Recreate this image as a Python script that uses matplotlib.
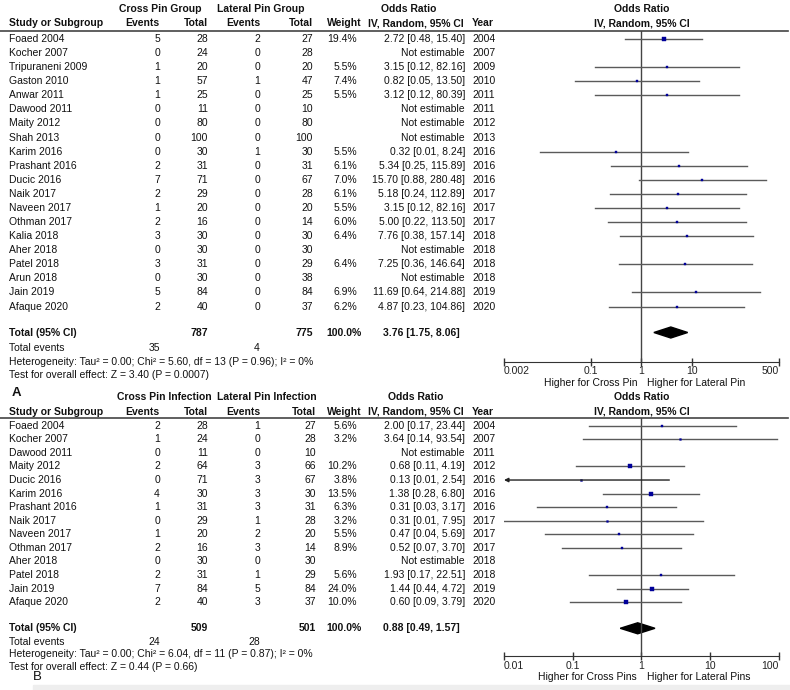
import matplotlib
matplotlib.use('Agg')
import matplotlib.pyplot as plt
from matplotlib.patches import Polygon, Rectangle

plt.rcParams['font.family'] = ['Liberation Sans', 'DejaVu Sans']
FS = 7.5
NAVY = '#000099'
LINE = '#5a5a5a'

# ---- Panel A: cross pin group vs lateral pin group ----
studies_a = ['Foaed 2004', 'Kocher 2007', 'Tripuraneni 2009', 'Gaston 2010', 'Anwar 2011',
             'Dawood 2011', 'Maity 2012', 'Shah 2013', 'Karim 2016', 'Prashant 2016',
             'Ducic 2016', 'Naik 2017', 'Naveen 2017', 'Othman 2017', 'Kalia 2018',
             'Aher 2018', 'Patel 2018', 'Arun 2018', 'Jain 2019', 'Afaque 2020']
cross_ev_a = [5, 0, 1, 1, 1, 0, 0, 0, 0, 2, 7, 2, 1, 2, 3, 0, 3, 0, 5, 2]
cross_n_a = [28, 24, 20, 57, 25, 11, 80, 100, 30, 31, 71, 29, 20, 16, 30, 30, 31, 30, 84, 40]
lat_ev_a = [2, 0, 0, 1, 0, 0, 0, 0, 1, 0, 0, 0, 0, 0, 0, 0, 0, 0, 0, 0]
lat_n_a = [27, 28, 20, 47, 25, 10, 80, 100, 30, 31, 67, 28, 20, 14, 30, 30, 29, 38, 84, 37]
weight_a = [19.4, None, 5.5, 7.4, 5.5, None, None, None, 5.5, 6.1, 7.0, 6.1, 5.5, 6.0, 6.4,
            None, 6.4, None, 6.9, 6.2]
or_a = [2.72, None, 3.15, 0.82, 3.12, None, None, None, 0.32, 5.34, 15.70, 5.18, 3.15, 5.00,
        7.76, None, 7.25, None, 11.69, 4.87]
lo_a = [0.48, None, 0.12, 0.05, 0.12, None, None, None, 0.01, 0.25, 0.88, 0.24, 0.12, 0.22,
        0.38, None, 0.36, None, 0.64, 0.23]
hi_a = [15.40, None, 82.16, 13.50, 80.39, None, None, None, 8.24, 115.89, 280.48, 112.89,
        82.16, 113.50, 157.14, None, 146.64, None, 214.88, 104.86]
years_a = [2004, 2007, 2009, 2010, 2011, 2011, 2012, 2013, 2016, 2016, 2016, 2017, 2017, 2017,
           2018, 2018, 2018, 2018, 2019, 2020]
total_a = (787, 775, 35, 4, 3.76, 1.75, 8.06)
het_a = 'Heterogeneity: Tau\u00b2 = 0.00; Chi\u00b2 = 5.60, df = 13 (P = 0.96); I\u00b2 = 0%'
test_a = 'Test for overall effect: Z = 3.40 (P = 0.0007)'
ticks_a = [0.002, 0.1, 1, 10, 500]
ticklabels_a = ['0.002', '0.1', '1', '10', '500']

# ---- Panel B: pin infection ----
studies_b = ['Foaed 2004', 'Kocher 2007', 'Dawood 2011', 'Maity 2012', 'Ducic 2016',
             'Karim 2016', 'Prashant 2016', 'Naik 2017', 'Naveen 2017', 'Othman 2017',
             'Aher 2018', 'Patel 2018', 'Jain 2019', 'Afaque 2020']
cross_ev_b = [2, 1, 0, 2, 0, 4, 1, 0, 1, 2, 0, 2, 7, 2]
cross_n_b = [28, 24, 11, 64, 71, 30, 31, 29, 20, 16, 30, 31, 84, 40]
lat_ev_b = [1, 0, 0, 3, 3, 3, 3, 1, 2, 3, 0, 1, 5, 3]
lat_n_b = [27, 28, 10, 66, 67, 30, 31, 28, 20, 14, 30, 29, 84, 37]
weight_b = [5.6, 3.2, None, 10.2, 3.8, 13.5, 6.3, 3.2, 5.5, 8.9, None, 5.6, 24.0, 10.0]
or_b = [2.00, 3.64, None, 0.68, 0.13, 1.38, 0.31, 0.31, 0.47, 0.52, None, 1.93, 1.44, 0.60]
# Ducic lower limit is below the axis (shown as 0.01, drawn with an arrow)
lo_b = [0.17, 0.14, None, 0.11, 0.007, 0.28, 0.03, 0.01, 0.04, 0.07, None, 0.17, 0.44, 0.09]
hi_b = [23.44, 93.54, None, 4.19, 2.54, 6.80, 3.17, 7.95, 5.69, 3.70, None, 22.51, 4.72, 3.79]
years_b = [2004, 2007, 2011, 2012, 2016, 2016, 2016, 2017, 2017, 2017, 2018, 2018, 2019, 2020]
total_b = (509, 501, 24, 28, 0.88, 0.49, 1.57)
het_b = 'Heterogeneity: Tau\u00b2 = 0.00; Chi\u00b2 = 6.04, df = 11 (P = 0.87); I\u00b2 = 0%'
test_b = 'Test for overall effect: Z = 0.44 (P = 0.66)'
ticks_b = [0.01, 0.1, 1, 10, 100]
ticklabels_b = ['0.01', '0.1', '1', '10', '100']

fig = plt.figure(figsize=(7.9, 6.9), dpi=100)
bg = fig.add_axes([0, 0, 1, 1])
bg.set_xlim(0, 790)
bg.set_ylim(690, 0)
bg.axis('off')

# column anchors (pixels)
X_STUDY, X_CEV, X_CN, X_LEV, X_LN, X_W, X_OR, X_YEAR = 9, 160, 208, 260, 313, 357, 465, 472
FX0, FX1 = 504, 779


def txt(x, y, s, ha='left', bold=False, size=FS):
    bg.text(x, y, s, ha=ha, va='center', fontsize=size,
            fontweight='bold' if bold else 'normal', color='#111111')


def draw_panel(lay, studies, cev, cn, lev, ln, w, orv, lo, hi, years, tot, het, test,
               ticks, ticklabels):
    # headers
    txt(lay['grp_c'], lay['h1'], lay['grp1'], ha='center', bold=True)
    txt(lay['grp_l'], lay['h1'], lay['grp2'], ha='center', bold=True)
    txt(lay['or_h'], lay['h1'], 'Odds Ratio', ha='center', bold=True)
    txt(641.5, lay['h1'], 'Odds Ratio', ha='center', bold=True)
    txt(X_STUDY, lay['h2'], 'Study or Subgroup', bold=True)
    txt(X_CEV - 1, lay['h2'], 'Events', ha='right', bold=True)
    txt(X_CN, lay['h2'], 'Total', ha='right', bold=True)
    txt(X_LEV, lay['h2'], 'Events', ha='right', bold=True)
    txt(lay['x_ln'], lay['h2'], 'Total', ha='right', bold=True)
    txt(X_W + 5, lay['h2'], 'Weight', ha='right', bold=True)
    txt(416, lay['h2'], 'IV, Random, 95% CI', ha='center', bold=True)
    txt(X_YEAR, lay['h2'], 'Year', bold=True)
    txt(641.5, lay['h2'], 'IV, Random, 95% CI', ha='center', bold=True)
    bg.plot([0, 788], [lay['line'], lay['line']], color='#444444', lw=1.2)

    # forest axes aligned with pixel rows
    ax = fig.add_axes([FX0 / 790, 1 - lay['axis'] / 690, (FX1 - FX0) / 790,
                       (lay['axis'] - lay['line']) / 690])
    ax.set_xscale('log')
    ax.set_xlim(ticks[0], ticks[-1])
    ax.set_ylim(lay['axis'], lay['line'])
    ax.patch.set_alpha(0)
    for s in ['top', 'left', 'right']:
        ax.spines[s].set_visible(False)
    ax.spines['bottom'].set_color('#333333')
    ax.set_yticks([])
    ax.minorticks_off()
    ax.set_xticks(ticks)
    ax.set_xticklabels(ticklabels, fontsize=FS, color='#222222')
    ax.tick_params(axis='x', direction='inout', length=6, width=1, color='#333333', pad=0.3)
    labs = ax.get_xticklabels()
    labs[0].set_ha('left')
    labs[-1].set_ha('right')
    ax.axvline(1, color='#444444', lw=1)

    for i, name in enumerate(studies):
        y = lay['r0'] + i * lay['dy']
        txt(X_STUDY, y, name)
        txt(X_CEV, y, str(cev[i]), ha='right')
        txt(X_CN, y, str(cn[i]), ha='right')
        txt(X_LEV, y, str(lev[i]), ha='right')
        txt(lay['x_ln'], y, str(ln[i]), ha='right')
        txt(X_YEAR, y, str(years[i]))
        if orv[i] is None:
            txt(X_OR, y, 'Not estimable', ha='right')
            continue
        txt(X_W, y, f'{w[i]:.1f}%', ha='right')
        txt(X_OR, y, f'{orv[i]:.2f} [{lo[i]:.2f}, {hi[i]:.2f}]', ha='right')
        if lo[i] < ticks[0]:
            # interval runs past the axis: arrow at the left end
            ax.annotate('', xy=(ticks[0], y), xytext=(hi[i], y),
                        arrowprops=dict(arrowstyle='-|>', color='#222222', lw=1,
                                        mutation_scale=6, shrinkA=0, shrinkB=0))
        else:
            ax.plot([lo[i], hi[i]], [y, y], color=LINE, lw=1)
        side = 0.97 * w[i] ** 0.5 * 0.72
        ax.plot(orv[i], y, marker='s', ms=side, color=NAVY, mec=NAVY, mew=0.3)

    # totals
    cn_t, ln_t, cev_t, lev_t, o, l, h = tot
    yt = lay['tot']
    txt(X_STUDY, yt, 'Total (95% CI)', bold=True)
    txt(X_CN, yt, str(cn_t), ha='right', bold=True)
    txt(lay['x_ln'], yt, str(ln_t), ha='right', bold=True)
    txt(X_W + 5, yt, '100.0%', ha='right', bold=True)
    txt(X_OR - 5, yt, f'{o:.2f} [{l:.2f}, {h:.2f}]', ha='right', bold=True)
    ax.add_patch(Polygon([(l, yt), (o, yt - 5.5), (h, yt), (o, yt + 5.5)],
                         closed=True, color='black'))
    txt(X_STUDY, lay['tev'], 'Total events')
    txt(X_CEV, lay['tev'], str(cev_t), ha='right')
    txt(X_LEV, lay['tev'], str(lev_t), ha='right')
    txt(X_STUDY, lay['het'], het)
    txt(X_STUDY, lay['test'], test)

    # favours labels
    txt(637, lay['fav'], lay['fav1'], ha='right')
    txt(647, lay['fav'], lay['fav2'])
    bg.text(lay['lx'], lay['ly'], lay['letter'], ha='left', va='center', fontsize=9.5,
            fontweight=lay['lw'], color='#111111')


lay_a = dict(h1=9.3, h2=23.3, line=31, r0=39, dy=14.08, tot=332.5, tev=348.3, het=361.7,
             test=375, axis=361.7, fav=383, grp_c=160, grp_l=261, or_h=409, x_ln=313,
             grp1='Cross Pin Group', grp2='Lateral Pin Group',
             fav1='Higher for Cross Pin', fav2='Higher for Lateral Pin',
             letter='A', lx=12, ly=393, lw='bold')
lay_b = dict(h1=397.3, h2=411.7, line=418, r0=425.7, dy=13.58, tot=628.3, tev=642.3, het=654.3,
             test=666.7, axis=656, fav=676.5, grp_c=164, grp_l=267, or_h=416, x_ln=316,
             grp1='Cross Pin Infection', grp2='Lateral Pin Infection',
             fav1='Higher for Cross Pins', fav2='Higher for Lateral Pins',
             letter='B', lx=33, ly=677, lw='normal')

draw_panel(lay_a, studies_a, cross_ev_a, cross_n_a, lat_ev_a, lat_n_a, weight_a, or_a, lo_a,
           hi_a, years_a, total_a, het_a, test_a, ticks_a, ticklabels_a)
draw_panel(lay_b, studies_b, cross_ev_b, cross_n_b, lat_ev_b, lat_n_b, weight_b, or_b, lo_b,
           hi_b, years_b, total_b, het_b, test_b, ticks_b, ticklabels_b)

# faint band along the bottom edge
bg.add_patch(Rectangle((33, 685), 757, 5, color='#eeeeee', zorder=0))

fig.savefig('out.png', dpi=100)
